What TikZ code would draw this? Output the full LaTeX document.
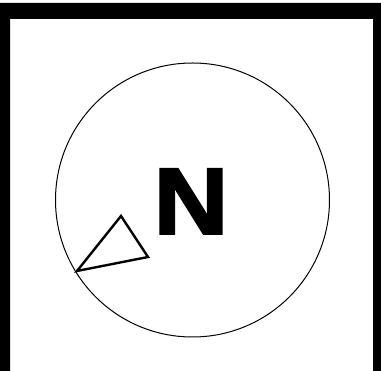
\documentclass[tikz,border=0pt]{standalone}
\usepackage{fontspec}
\newfontfamily\letterfont[BoldFeatures={FakeBold=2.5}]{Liberation Sans}
\usepackage{tikz}
\usetikzlibrary{positioning}

\tikzset{
  dial/.style={circle,draw,line width=1pt,inner sep=0pt,minimum size=274pt},
  pointer/.style={draw,line width=2.4pt,line join=miter},
  letter/.style={font=\letterfont\bfseries\fontsize{94}{94}\selectfont,inner sep=0pt}
}

\begin{document}
\begin{tikzpicture}[x=1pt,y=-1pt]
  \useasboundingbox (0,0) rectangle (381,371);
  % frame, cut at the bottom
  \fill[black,even odd rule] (0,3) rectangle (381,380) (10,19) rectangle (373,380);
  \node[dial] (dial) at (192.5,200) {};
  \node[letter,anchor=south,xscale=1.1] (north) at (191,234) {N};
  % pointer
  \coordinate (tip) at (77,271);
  \coordinate (top) at (121,216);
  \coordinate (side) at (148,257);
  \draw[pointer] (tip) -- (top) -- (side) -- cycle;
\end{tikzpicture}
\end{document}
